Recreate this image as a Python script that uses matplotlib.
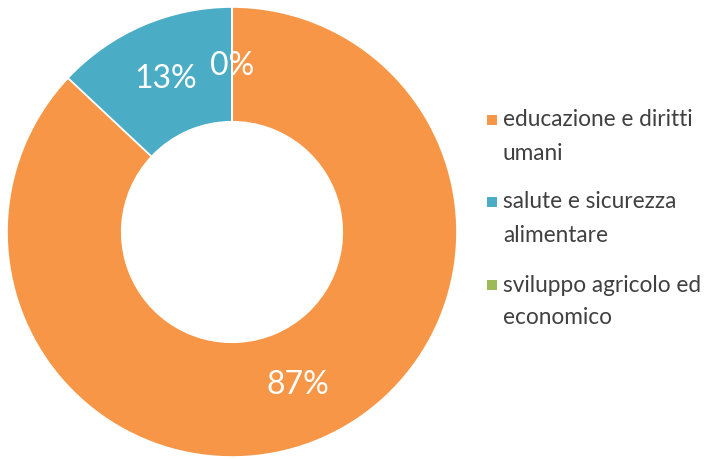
import matplotlib.pyplot as plt
from matplotlib.patches import Rectangle

# ---------------------------------------------------------------------
# Data
# ---------------------------------------------------------------------

CATEGORIES = [
    ["educazione e diritti", "umani"],
    ["salute e sicurezza", "alimentare"],
    ["sviluppo agricolo ed", "economico"],
]
SHARES = [87, 13, 0]
COLORS = ["#F79646", "#4BACC6", "#9BBB59"]

plt.rcParams["font.family"] = ["Lato", "DejaVu Sans"]

W, H = 721, 459
fig = plt.figure(figsize=(W / 100, H / 100), dpi=100)

# donut centred at (232, 232) px, outer radius ~225 px
cx, cy, r = 232, 232, 225
ax = fig.add_axes([(cx - r) / W, (H - cy - r) / H, 2 * r / W, 2 * r / H])

wedges, texts, autotexts = ax.pie(
    SHARES,
    colors=COLORS,
    startangle=90,
    counterclock=False,
    radius=1,
    autopct="%.0f%%",
    pctdistance=0.74,
    wedgeprops=dict(width=0.51, edgecolor="white", linewidth=1.2),
    textprops=dict(color="white", fontsize=23),
)
ax.set_xlim(-1, 1)
ax.set_ylim(-1, 1)
ax.axis("off")

# legend drawn by hand to match spacing
legend_y = [120, 202, 285]
line_gap = 33
for lines, color, y in zip(CATEGORIES, COLORS, legend_y):
    fig.patches.append(
        Rectangle((487 / W, (H - y - 5) / H), 10 / W, 10 / H,
                  transform=fig.transFigure, facecolor=color, edgecolor="none")
    )
    for i, line in enumerate(lines):
        fig.text(503 / W, (H - y - i * line_gap) / H, line, fontsize=16.3,
                 color="#404040", va="center", ha="left")

fig.savefig("out.png", dpi=100)
